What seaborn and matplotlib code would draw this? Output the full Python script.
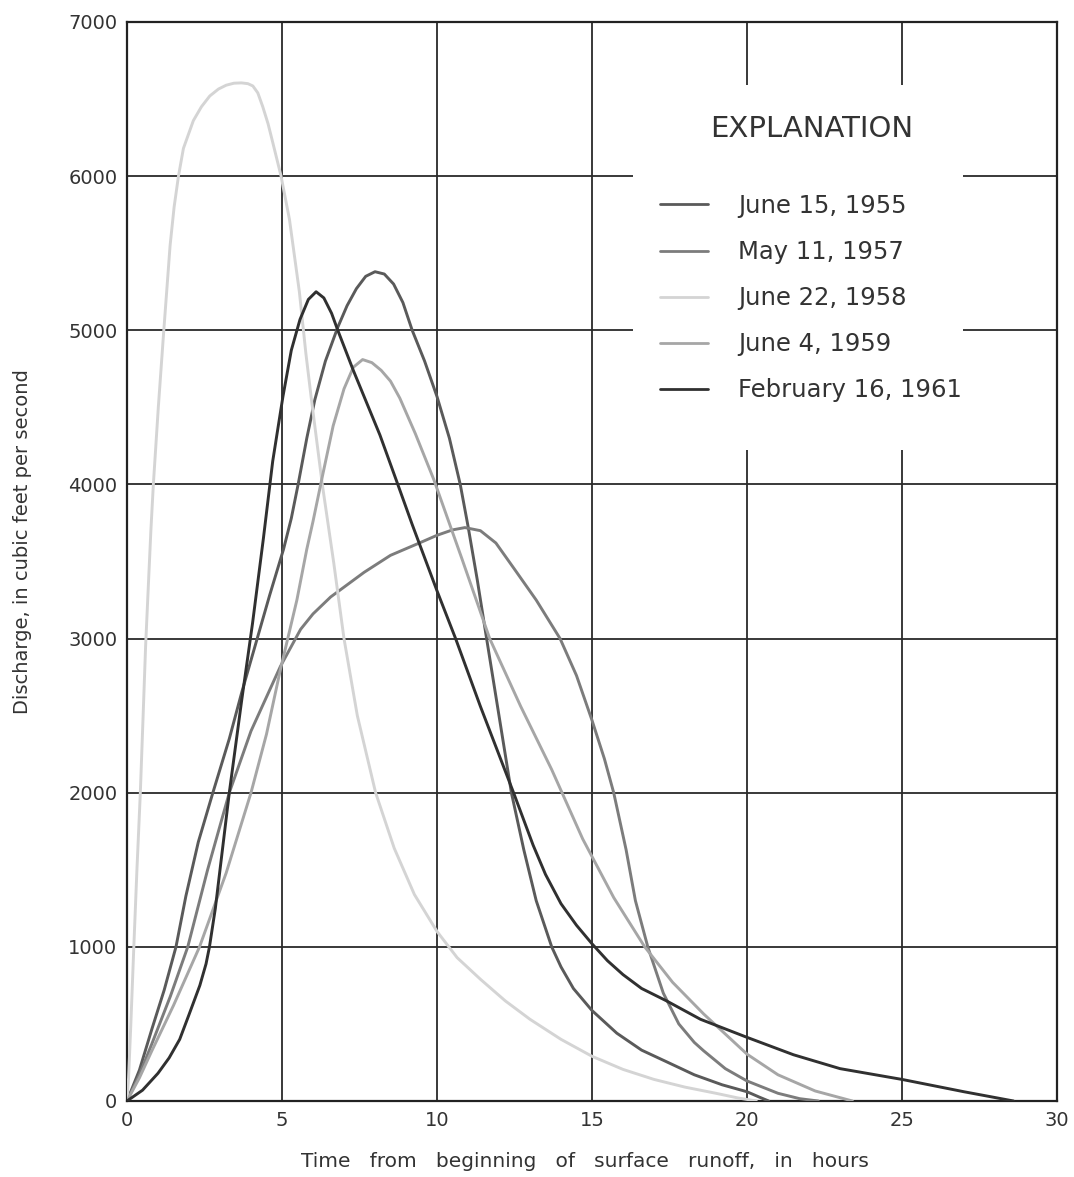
import numpy as np
import pandas as pd
import matplotlib
matplotlib.use("Agg")
import matplotlib.pyplot as plt
import seaborn as sns
from matplotlib.patches import Rectangle
from matplotlib.lines import Line2D

# ---------------- data ----------------
series_names = ["June 15, 1955", "May 11, 1957", "June 22, 1958",
                "June 4, 1959", "February 16, 1961"]

t_1955 = [0, 0.4, 0.8, 1.2, 1.58, 1.9, 2.3, 2.77, 3.3, 3.7, 4.2, 4.6, 5.05, 5.3, 5.52,
          5.8, 6.06, 6.4, 6.8, 7.1, 7.4, 7.7, 8.0, 8.3, 8.6, 8.9, 9.2, 9.6, 10.0, 10.4,
          10.75, 11.0, 11.3, 11.6, 12.0, 12.4, 12.8, 13.2, 13.7, 14.0, 14.4, 15.0, 15.8, 16.6,
          17.4, 18.3, 19.2, 20.0, 20.4, 20.7]
q_1955 = [0, 200, 465, 720, 1000, 1330, 1680, 2000, 2350, 2650, 3000, 3280, 3580, 3780, 4000,
          4300, 4550, 4800, 5020, 5160, 5270, 5350, 5380, 5365, 5300, 5180, 5000, 4800, 4570, 4300,
          4000, 3730, 3380, 3000, 2500, 2000, 1630, 1300, 1000, 870, 730, 587, 440, 330,
          255, 170, 105, 60, 25, 0]

t_1957 = [0, 0.4, 0.8, 1.4, 1.96, 2.6, 3.3, 4.0, 4.95, 5.6, 6.0, 6.57, 7.65, 8.5, 9.43,
          10.0, 10.5, 10.9, 11.4, 11.9, 12.5, 13.2, 13.97, 14.5, 15.0, 15.4, 15.7, 16.1,
          16.4, 16.8, 17.3, 17.8, 18.3, 18.6, 19.3, 20.0, 21.0, 21.7, 22.3]
q_1957 = [0, 170, 370, 680, 1000, 1500, 2000, 2400, 2820, 3060, 3160, 3270, 3430, 3540, 3620,
          3670, 3705, 3720, 3700, 3620, 3450, 3250, 3000, 2760, 2470, 2220, 2000, 1630,
          1300, 1000, 700, 500, 380, 326, 210, 130, 50, 15, 0]

t_1958 = [0, 0.05, 0.12, 0.22, 0.32, 0.43, 0.52, 0.6, 0.69, 0.77, 0.85, 0.93, 1.01, 1.18,
          1.39, 1.52, 1.66, 1.82, 2.14, 2.4, 2.67, 2.95, 3.2, 3.45, 3.69, 3.9, 4.06, 4.22,
          4.38, 4.55, 4.7, 4.97, 5.24, 5.56, 5.77, 5.95, 6.3, 6.67, 7.0, 7.43, 8.02, 8.62,
          9.27, 10.0, 10.65, 11.4, 12.2, 13.0, 14.0, 15.0, 16.0, 17.0, 18.0, 19.0, 19.7, 20.3]
q_1958 = [0, 150, 480, 1000, 1500, 2000, 2500, 2950, 3350, 3700, 4000, 4250, 4500, 4980,
          5550, 5800, 6000, 6180, 6360, 6450, 6520, 6565, 6590, 6603, 6605, 6600, 6585, 6540,
          6450, 6340, 6220, 6000, 5720, 5250, 4850, 4550, 4000, 3490, 3000, 2500, 2000, 1640,
          1340, 1100, 930, 790, 650, 530, 400, 290, 205, 140, 90, 50, 20, 0]

t_1959 = [0, 0.4, 0.8, 1.5, 2.34, 3.2, 4.0, 4.5, 4.95, 5.48, 5.8, 6.0, 6.3, 6.65, 7.0,
          7.3, 7.6, 7.9, 8.2, 8.5, 8.8, 9.3, 9.9, 10.8, 11.7, 12.7, 13.7, 14.7, 15.7, 16.7,
          17.6, 18.6, 20.0, 21.0, 22.2, 23.4]
q_1959 = [0, 150, 325, 620, 1000, 1480, 2000, 2380, 2800, 3250, 3580, 3760, 4050, 4380, 4620,
          4760, 4810, 4790, 4740, 4670, 4560, 4330, 4030, 3520, 3000, 2560, 2150, 1700, 1320, 1000,
          770, 565, 304, 170, 65, 0]

t_1961 = [0, 0.5, 1.0, 1.36, 1.7, 2.0, 2.35, 2.55, 2.66, 2.85, 3.0, 3.3, 3.7, 4.05, 4.4,
          4.7, 5.03, 5.3, 5.58, 5.85, 6.1, 6.35, 6.6, 6.8, 7.3, 8.16, 8.7, 9.2, 10.0, 10.6,
          11.4, 12.47, 13.1, 13.5, 14.0, 14.5, 15.0, 15.5, 16.0, 16.6, 17.4, 18.5, 20.0, 21.5,
          23.0, 25.0, 27.0, 28.6]
q_1961 = [0, 70, 180, 280, 400, 560, 750, 890, 1000, 1250, 1500, 2000, 2600, 3100, 3650,
          4150, 4570, 4870, 5070, 5200, 5250, 5210, 5110, 5000, 4740, 4320, 4020, 3740, 3310, 3000,
          2560, 2000, 1660, 1470, 1280, 1140, 1020, 910, 820, 730, 650, 530, 413, 300,
          210, 140, 60, 0]

x_ticks = [0, 5, 10, 15, 20, 25, 30]
y_ticks = [0, 1000, 2000, 3000, 4000, 5000, 6000, 7000]
x_tick_labels = ["0", "5", "10", "15", "20", "25", "30"]
y_tick_labels = ["0", "1000", "2000", "3000", "4000", "5000", "6000", "7000"]

line_colors = ["#5a5a5a", "#7c7c7c", "#d4d4d4", "#a6a6a6", "#303030"]

# ---------------- build table ----------------
frames = []
for name, t, q in zip(series_names,
                      [t_1955, t_1957, t_1958, t_1959, t_1961],
                      [q_1955, q_1957, q_1958, q_1959, q_1961]):
    frames.append(pd.DataFrame({"time": t, "discharge": q, "event": name}))
df = pd.concat(frames, ignore_index=True)

# ---------------- plot ----------------
sns.set_theme(style="white")
plt.rcParams["font.family"] = ["DejaVu Sans"]

W, H = 1074, 1177
fig = plt.figure(figsize=(W / 100, H / 100), dpi=100)
L, R, T, B = 127, 1057, 22, 1101
ax = fig.add_axes([L / W, 1 - B / H, (R - L) / W, (B - T) / H])

palette = dict(zip(series_names, line_colors))
sns.lineplot(data=df, x="time", y="discharge", hue="event", hue_order=series_names,
             palette=palette, estimator=None, sort=False, linewidth=2.1,
             legend=False, ax=ax, zorder=3)
for ln in ax.get_lines():
    ln.set_solid_joinstyle("round")
    ln.set_solid_capstyle("round")

ax.set_xlim(0, 30)
ax.set_ylim(0, 7000)
ax.set_xticks(x_ticks)
ax.set_xticklabels(x_tick_labels)
ax.set_yticks(y_ticks)
ax.set_yticklabels(y_tick_labels)
ax.tick_params(axis="both", length=0, labelsize=14, labelcolor="#333333")
ax.tick_params(axis="y", pad=7)
ax.tick_params(axis="x", pad=7)

ax.set_axisbelow(True)
ax.grid(True, color="#2a2a2a", linewidth=1.3)
for s in ax.spines.values():
    s.set_color("#222222")
    s.set_linewidth(1.6)

ax.set_xlabel("Time   from   beginning   of   surface   runoff,   in   hours",
              fontsize=14.5, color="#333333")
ax.xaxis.set_label_coords((585 - L) / (R - L), -(1152 - B) / (B - T))
ax.set_ylabel("Discharge, in cubic feet per second", fontsize=14,
              color="#333333", family="DejaVu Sans Condensed")
ax.yaxis.set_label_coords((32 - L) / (R - L), (B - 542) / (B - T))

# white explanation panel
x0 = (633 - L) / (R - L)
x1 = (963 - L) / (R - L)
y0 = (B - 450) / (B - T)
y1 = (B - 85) / (B - T)
ax.add_patch(Rectangle((x0, y0), x1 - x0, y1 - y0, transform=ax.transAxes,
                       facecolor="white", edgecolor="none", zorder=1))

ax.text((812 - L) / (R - L), (B - 129) / (B - T), "EXPLANATION", transform=ax.transAxes,
        ha="center", va="center", fontsize=21, color="#333333", zorder=4)

handles = [Line2D([0], [0], color=c, lw=2.0) for c in line_colors]
leg = ax.legend(handles, series_names, loc="upper left",
                bbox_to_anchor=((660 - L) / (R - L), (B - 194) / (B - T)),
                frameon=False, fontsize=17.5, handlelength=1.98, handletextpad=1.23,
                labelspacing=0.91, borderpad=0, borderaxespad=0)
for txt in leg.get_texts():
    txt.set_color("#333333")

fig.savefig("out.png", dpi=100, facecolor="white")
